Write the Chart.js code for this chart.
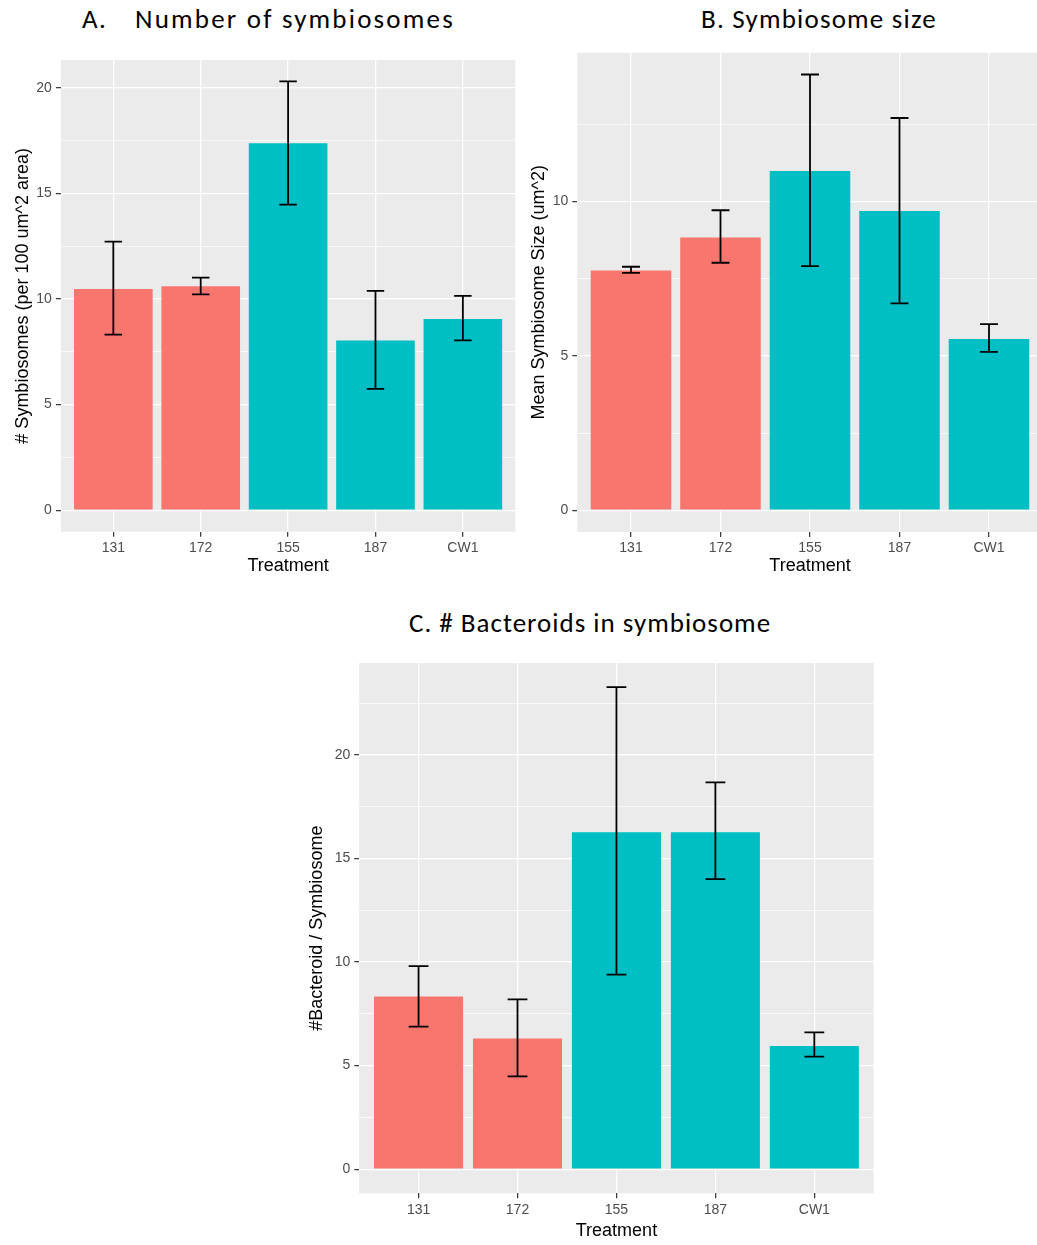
<!DOCTYPE html>
<html>
<head>
<meta charset="utf-8">
<script src="https://cdn.jsdelivr.net/npm/chart.js@4.4.1/dist/chart.umd.min.js"></script>
<style>
  html, body { margin: 0; padding: 0; background: #fff; overflow: hidden; width: 1037px; height: 1245px; }
  canvas { position: absolute; }
  .ttl { position: absolute; font-family: Calibri, Carlito, Lato, sans-serif; font-size: 27px; line-height: 1; color: #000; white-space: pre; }
</style>
</head>
<body>
<div class="ttl" style="left:82px; top:5px; letter-spacing:1.2px;"><span>A.</span><span style="margin-left:28px; letter-spacing:2.2px;">Number of symbiosomes</span></div>
<div class="ttl" style="left:701px; top:5px; letter-spacing:1.2px;">B. Symbiosome size</div>
<div class="ttl" style="left:409px; top:609px; letter-spacing:1px;">C. # Bacteroids in symbiosome</div>

<canvas id="chartA" width="520" height="535" style="left:0px; top:45px;"></canvas>
<canvas id="chartB" width="528" height="540" style="left:520px; top:40px;"></canvas>
<canvas id="chartC" width="590" height="595" style="left:290px; top:650px;"></canvas>

<script>
// Treatments, in plotting order
const categories = ['131', '172', '155', '187', 'CW1'];
const groupColors = ['#F8766D', '#F8766D', '#00BFC4', '#00BFC4', '#00BFC4'];

// A. Number of symbiosomes (per 100 um^2 area): mean and error-bar limits
const countMean = [10.47, 10.60, 17.37, 8.04, 9.06];
const countLow  = [8.31, 10.22, 14.47, 5.75, 8.04];
const countHigh = [12.72, 11.01, 20.30, 10.39, 10.15];

// B. Mean symbiosome size (um^2)
const sizeMean = [7.77, 8.84, 10.99, 9.70, 5.55];
const sizeLow  = [7.69, 8.02, 7.91, 6.70, 5.13];
const sizeHigh = [7.89, 9.72, 14.12, 12.71, 6.03];

// C. Bacteroids per symbiosome
const bactMean = [8.33, 6.31, 16.27, 16.27, 5.95];
const bactLow  = [6.88, 4.48, 9.39, 14.00, 5.43];
const bactHigh = [9.80, 8.20, 23.27, 18.67, 6.60];

const FONT = "'Liberation Sans', Arial, Helvetica, sans-serif";
Chart.defaults.font.family = FONT;

// grey panel behind the grid, and mean +/- error bars on top of the bars
function panelPlugin(low, high) {
  return {
    id: 'panelAndErrors',
    beforeDraw(chart) {
      const { ctx, chartArea: a } = chart;
      ctx.save();
      ctx.fillStyle = '#EBEBEB';
      ctx.fillRect(a.left, a.top, a.right - a.left, a.bottom - a.top);
      ctx.restore();
    },
    afterDatasetsDraw(chart) {
      const { ctx } = chart;
      const xs = chart.scales.x, ys = chart.scales.y;
      ctx.save();
      ctx.strokeStyle = '#000';
      ctx.lineWidth = 1.8;
      low.forEach((lo, i) => {
        const cx = xs.getPixelForValue(i + 1);
        const half = (xs.getPixelForValue(i + 1.1) - xs.getPixelForValue(i + 0.9)) / 2;
        const y1 = ys.getPixelForValue(lo);
        const y2 = ys.getPixelForValue(high[i]);
        ctx.beginPath();
        ctx.moveTo(cx, y1); ctx.lineTo(cx, y2);
        ctx.moveTo(cx - half, y1); ctx.lineTo(cx + half, y1);
        ctx.moveTo(cx - half, y2); ctx.lineTo(cx + half, y2);
        ctx.stroke();
      });
      ctx.restore();
    }
  };
}

function barPanel(id, mean, low, high, yTitle, lay) {
  const top = Math.max(...high);
  const yMin = -0.05 * top;          // 5% expansion on both ends
  const yMax = 1.05 * top;
  const isMajor = v => Math.abs(v % 5) < 1e-9;

  return new Chart(document.getElementById(id), {
    type: 'bar',
    data: {
      datasets: [{
        data: mean.map((v, i) => ({ x: i + 1, y: v })),
        backgroundColor: groupColors,
        borderWidth: 0,
        barPercentage: 0.9,
        categoryPercentage: 1.0
      }]
    },
    options: {
      responsive: false,
      animation: false,
      events: [],
      layout: { padding: lay.pad },
      plugins: { legend: { display: false }, tooltip: { enabled: false } },
      scales: {
        x: {
          type: 'linear',
          min: 0.4,
          max: 5.6,
          offset: false,
          afterBuildTicks: s => { s.ticks = categories.map((c, i) => ({ value: i + 1 })); },
          afterFit: s => { s.height = lay.xAxisH; },
          ticks: {
            callback: v => categories[v - 1],
            color: '#4D4D4D',
            font: { size: 14 },
            padding: 3,
            maxRotation: 0,
            autoSkip: false
          },
          grid: { offset: false, color: '#FFFFFF', lineWidth: 1.3, tickColor: '#333333', tickLength: 5, tickWidth: 1.2 },
          border: { display: false },
          title: {
            display: true, text: 'Treatment', color: '#000',
            font: { size: 18, lineHeight: 1.2 },
            padding: { top: 0, bottom: 3 }
          }
        },
        y: {
          type: 'linear',
          min: yMin,
          max: yMax,
          afterBuildTicks: s => {
            const t = [];
            for (let v = 0; v <= yMax + 1e-9; v += 2.5) t.push({ value: v });
            s.ticks = t;
          },
          afterFit: s => { s.width = lay.yAxisW; },
          ticks: {
            callback: v => (isMajor(v) ? String(v) : ''),
            color: '#4D4D4D',
            font: { size: 14 },
            padding: 4
          },
          grid: {
            color: '#FFFFFF',
            lineWidth: c => (c.tick && isMajor(c.tick.value) ? 1.3 : 0.7),
            tickColor: c => (c.tick && isMajor(c.tick.value) ? '#333333' : 'rgba(0,0,0,0)'),
            tickLength: 5,
            tickWidth: 1.2
          },
          border: { display: false },
          title: {
            display: true, text: yTitle, color: '#000',
            font: { size: 18, lineHeight: 1.2 },
            padding: { top: lay.yTitlePad, bottom: 0 }
          }
        }
      }
    },
    plugins: [panelPlugin(low, high)]
  });
}

barPanel('chartA', countMean, countLow, countHigh, '# Symbiosomes (per 100 um^2 area)',
  { pad: { top: 15, right: 4.7, left: 0, bottom: 0 }, yAxisW: 60.9, xAxisH: 48.3, yTitlePad: 12.2 });

barPanel('chartB', sizeMean, sizeLow, sizeHigh, 'Mean Symbiosome Size (um^2)',
  { pad: { top: 12.7, right: 5.3, left: 0, bottom: 0 }, yAxisW: 57.3, xAxisH: 48, yTitlePad: 8.6 });

barPanel('chartC', bactMean, bactLow, bactHigh, '#Bacteroid / Symbiosome',
  { pad: { top: 13, right: 6.3, left: 0, bottom: 0 }, yAxisW: 69.2, xAxisH: 51.7, yTitlePad: 16.2 });
</script>
</body>
</html>
